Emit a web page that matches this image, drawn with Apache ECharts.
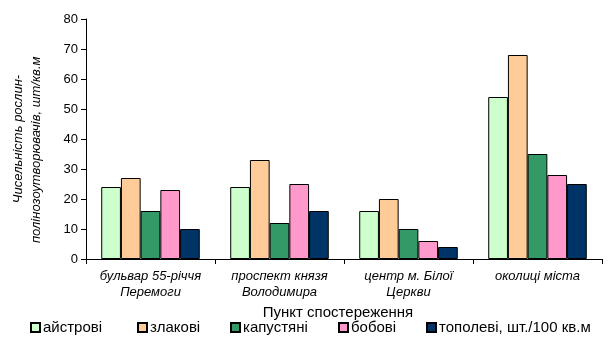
<!DOCTYPE html>
<html><head><meta charset="utf-8">
<script src="https://cdn.jsdelivr.net/npm/echarts@6/dist/echarts.min.js"></script>
<style>html,body{margin:0;padding:0;background:#fff}#c{width:612px;height:339px}</style>
</head><body><div id="c"></div>
<script>
const categories = ["бульвар 55-річчя\nПеремоги", "проспект князя\nВолодимира", "центр м. Білої\nЦеркви", "околиці міста"];
const seriesNames = ["айстрові", "злакові", "капустяні", "бобові", "тополеві, шт./100 кв.м"];
const astrovi = [24, 24, 16, 54];
const zlakovi = [27, 33, 20, 68];
const kapustiani = [16, 12, 10, 35];
const bobovi = [23, 25, 6, 28];
const topolevi = [10, 16, 4, 25];
const yTicks = [0, 10, 20, 30, 40, 50, 60, 70, 80];
const colors = ["#CCFFCC", "#FFCC99", "#339966", "#FF99CC", "#003366"];
const values = [astrovi, zlakovi, kapustiani, bobovi, topolevi];
const legendLeft = [25, 132, 225, 333, 421];
const font = "Liberation Sans, Arial, sans-serif";

const chart = echarts.init(document.getElementById('c'), null, {renderer: 'canvas'});
chart.setOption({
  animation: false,
  textStyle: {fontFamily: font},
  grid: {left: 86, right: 10, top: 19, bottom: 80},
  legend: seriesNames.map((n, i) => ({
    data: [n], left: legendLeft[i], top: 315, itemWidth: 9, itemHeight: 9, itemGap: 0,
    icon: 'rect', textStyle: {fontFamily: font, fontSize: 15, color: '#000', padding: [0, 0, 0, -2]}
  })),
  xAxis: {
    type: 'category', data: categories,
    name: 'Пункт спостереження', nameLocation: 'middle', nameGap: 38,
    nameTextStyle: {fontFamily: font, fontSize: 15, color: '#000', padding: [0, 12, 0, 0]},
    axisLine: {lineStyle: {color: '#000', width: 1}},
    axisTick: {show: true, length: 5, lineStyle: {color: '#000'}},
    axisLabel: {fontFamily: font, fontSize: 13, fontStyle: 'italic', color: '#000', lineHeight: 16, margin: 9, interval: 0}
  },
  yAxis: {
    type: 'value', min: 0, max: 80, interval: 10,
    name: 'Чисельність рослин-\nполінозоутворювачів, шт/кв.м      ',
    nameLocation: 'middle', nameRotate: 90, nameGap: 41,
    nameTextStyle: {fontFamily: font, fontSize: 13, fontStyle: 'italic', color: '#000', lineHeight: 18},
    axisLine: {show: true, lineStyle: {color: '#000', width: 1}},
    axisTick: {show: true, length: 5, lineStyle: {color: '#000'}},
    splitLine: {show: false},
    axisLabel: {fontFamily: font, fontSize: 13, color: '#000', margin: 8,
      formatter: v => yTicks.includes(v) ? String(v) : ''}
  },
  series: seriesNames.map((n, i) => ({
    name: n, type: 'bar', data: values[i],
    barGap: '0%', barCategoryGap: '23.6%',
    itemStyle: {color: colors[i], borderColor: '#000', borderWidth: 1}
  }))
});
</script></body></html>
